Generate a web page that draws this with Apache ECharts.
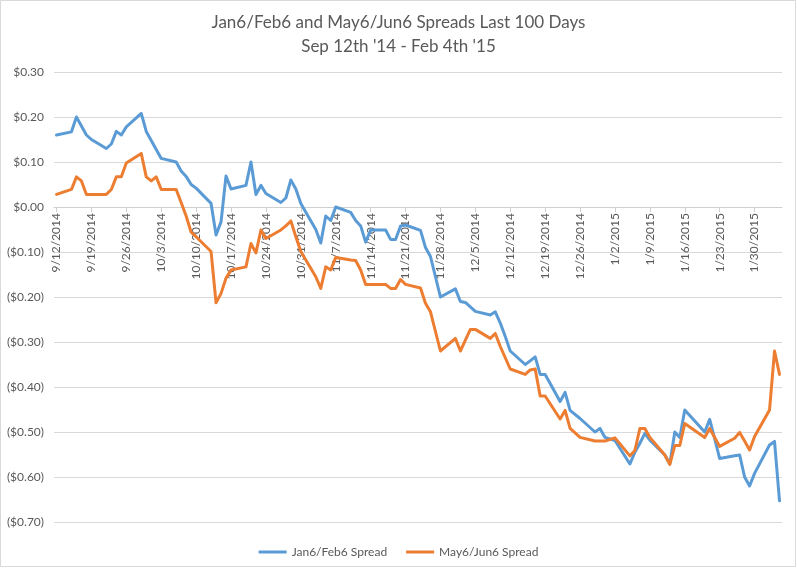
<!DOCTYPE html>
<html>
<head>
<meta charset="utf-8">
<script src="https://cdn.jsdelivr.net/npm/echarts@6/dist/echarts.min.js"></script>
<style>
html, body { margin: 0; padding: 0; background: #fff; }
#main { width: 797px; height: 568px; }
</style>
</head>
<body>
<div id="main"></div>
<script>
// trading days shown in the chart
const dates = [
    '9/12/2014', '9/15/2014', '9/16/2014', '9/17/2014', '9/18/2014', '9/19/2014',
    '9/22/2014', '9/23/2014', '9/24/2014', '9/25/2014', '9/26/2014', '9/29/2014', '9/30/2014',
    '10/1/2014', '10/2/2014', '10/3/2014', '10/6/2014', '10/7/2014', '10/8/2014', '10/9/2014', '10/10/2014',
    '10/13/2014', '10/14/2014', '10/15/2014', '10/16/2014', '10/17/2014', '10/20/2014', '10/21/2014',
    '10/22/2014', '10/23/2014', '10/24/2014', '10/27/2014', '10/28/2014', '10/29/2014', '10/30/2014', '10/31/2014',
    '11/3/2014', '11/4/2014', '11/5/2014', '11/6/2014', '11/7/2014', '11/10/2014', '11/11/2014',
    '11/12/2014', '11/13/2014', '11/14/2014', '11/17/2014', '11/18/2014', '11/19/2014', '11/20/2014',
    '11/21/2014', '11/24/2014', '11/25/2014', '11/26/2014', '11/28/2014',
    '12/1/2014', '12/2/2014', '12/3/2014', '12/4/2014', '12/5/2014', '12/8/2014', '12/9/2014',
    '12/10/2014', '12/11/2014', '12/12/2014', '12/15/2014', '12/16/2014', '12/17/2014', '12/18/2014',
    '12/19/2014', '12/22/2014', '12/23/2014', '12/24/2014', '12/26/2014', '12/29/2014', '12/30/2014', '12/31/2014',
    '1/2/2015', '1/5/2015', '1/6/2015', '1/7/2015', '1/8/2015', '1/9/2015', '1/12/2015', '1/13/2015',
    '1/14/2015', '1/15/2015', '1/16/2015', '1/20/2015', '1/21/2015', '1/22/2015', '1/23/2015',
    '1/26/2015', '1/27/2015', '1/28/2015', '1/29/2015', '1/30/2015',
    '2/2/2015', '2/3/2015', '2/4/2015'
];

const jan6Feb6 = [
    0.16, 0.167, 0.20, 0.18, 0.16, 0.15, 0.13, 0.14, 0.168, 0.16, 0.178, 0.208, 0.168,
    0.148, 0.128, 0.108, 0.10, 0.08, 0.068, 0.05, 0.042, 0.008, -0.062, -0.033, 0.069, 0.04,
    0.048, 0.10, 0.028, 0.048, 0.03, 0.01, 0.02, 0.06, 0.04, 0.008,
    -0.05, -0.08, -0.02, -0.03, 0.0, -0.012, -0.03, -0.042, -0.078, -0.051, -0.051, -0.072, -0.072,
    -0.042, -0.04, -0.052, -0.09, -0.11, -0.20,
    -0.182, -0.21, -0.212, -0.222, -0.232, -0.24, -0.233, -0.258, -0.288, -0.32, -0.35, -0.342,
    -0.333, -0.372, -0.372, -0.432, -0.412, -0.452, -0.47, -0.50, -0.492, -0.512,
    -0.519, -0.571, -0.545, -0.525, -0.503, -0.518, -0.551, -0.571, -0.50, -0.512, -0.451,
    -0.50, -0.472, -0.515, -0.559, -0.553, -0.551, -0.60, -0.62, -0.592,
    -0.529, -0.521, -0.653
];

const may6Jun6 = [
    0.028, 0.039, 0.067, 0.058, 0.028, 0.028, 0.028, 0.039, 0.067, 0.067, 0.098, 0.119, 0.067,
    0.058, 0.067, 0.039, 0.039, 0.01, -0.02, -0.056, -0.066, -0.099, -0.213, -0.192, -0.158, -0.14,
    -0.133, -0.081, -0.102, -0.051, -0.07, -0.051, -0.042, -0.031, -0.066, -0.099,
    -0.155, -0.181, -0.133, -0.14, -0.112, -0.118, -0.119, -0.14, -0.172, -0.172, -0.172, -0.181, -0.181,
    -0.161, -0.172, -0.18, -0.214, -0.233, -0.32,
    -0.292, -0.32, -0.296, -0.272, -0.272, -0.292, -0.281, -0.31, -0.335, -0.36, -0.372, -0.362,
    -0.36, -0.42, -0.42, -0.471, -0.452, -0.492, -0.512, -0.52, -0.52, -0.52,
    -0.513, -0.553, -0.541, -0.492, -0.492, -0.512, -0.551, -0.572, -0.53, -0.53, -0.481,
    -0.512, -0.492, -0.512, -0.532, -0.514, -0.501, -0.52, -0.54, -0.51,
    -0.451, -0.32, -0.372
];

const tickLabels = [
    '9/12/2014', '9/19/2014', '9/26/2014', '10/3/2014', '10/10/2014', '10/17/2014', '10/24/2014',
    '10/31/2014', '11/7/2014', '11/14/2014', '11/21/2014', '11/28/2014', '12/5/2014', '12/12/2014',
    '12/19/2014', '12/26/2014', '1/2/2015', '1/9/2015', '1/16/2015', '1/23/2015', '1/30/2015'
];

const seriesNames = ['Jan6/Feb6 Spread', 'May6/Jun6 Spread'];

function dayNum(s) {
    const p = s.split('/');
    return Date.UTC(+p[2], +p[0] - 1, +p[1]) / 86400000;
}
const day0 = dayNum(dates[0]);
const xs = dates.map(d => dayNum(d) - day0);
const tickDays = tickLabels.map(d => dayNum(d) - day0);
const labelOf = {};
tickLabels.forEach((t, i) => { labelOf[tickDays[i]] = t; });

function money(v) {
    const s = '$' + Math.abs(v).toFixed(2);
    return v < -0.0001 ? '(' + s + ')' : s;
}

const font = 'Lato, "Open Sans", sans-serif';
const grey = '#595959';

// plot box and value range
const gridTop = 72, gridBottom = 46, chartH = 568;
const yMin = -0.7, yMax = 0.3;
const plotH = chartH - gridTop - gridBottom;
// lift the date axis up to the $0.00 line
const xAxisOffset = -plotH * (0 - yMin) / (yMax - yMin);

let myChart = echarts.init(document.getElementById('main'));

const option = {
    backgroundColor: '#fff',
    animation: false,
    color: ['#5B9BD5', '#ED7D31'],
    textStyle: { fontFamily: font },
    title: {
        text: 'Jan6/Feb6 and May6/Jun6 Spreads Last 100 Days\nSep 12th \'14 - Feb 4th \'15',
        left: 'center',
        top: 6,
        textStyle: {
            color: grey,
            fontSize: 17,
            fontWeight: 'normal',
            lineHeight: 24,
            fontFamily: font
        }
    },
    legend: {
        data: seriesNames,
        icon: 'rect',
        left: 'center',
        top: 541,
        itemWidth: 28,
        itemHeight: 3,
        itemGap: 19,
        textStyle: { color: grey, fontSize: 12, fontFamily: font }
    },
    grid: {
        left: 54,
        right: 15,
        top: gridTop,
        bottom: gridBottom
    },
    xAxis: {
        type: 'value',
        min: -0.5,
        max: xs[xs.length - 1] + 0.5,
        position: 'bottom',
        offset: xAxisOffset,
        axisLine: {
            onZero: false,
            lineStyle: { color: '#cfcfcf', width: 1 }
        },
        axisTick: {
            customValues: tickDays,
            length: 5,
            lineStyle: { color: '#cfcfcf' }
        },
        axisLabel: {
            customValues: tickDays,
            rotate: 90,
            margin: 6,
            color: grey,
            fontSize: 12,
            fontFamily: font,
            formatter: v => labelOf[Math.round(v)] || ''
        },
        splitLine: { show: false }
    },
    yAxis: {
        type: 'value',
        min: yMin,
        max: yMax,
        interval: 0.1,
        axisLine: { show: false, onZero: false },
        axisTick: { show: false },
        axisLabel: {
            margin: 10,
            color: grey,
            fontSize: 12,
            fontFamily: font,
            formatter: money
        },
        splitLine: { lineStyle: { color: '#d9d9d9', width: 1 } }
    },
    series: [
        {
            name: seriesNames[0],
            type: 'line',
            symbol: 'none',
            lineStyle: { width: 3, join: 'round', cap: 'round' },
            data: xs.map((x, i) => [x, jan6Feb6[i]])
        },
        {
            name: seriesNames[1],
            type: 'line',
            symbol: 'none',
            lineStyle: { width: 3, join: 'round', cap: 'round' },
            data: xs.map((x, i) => [x, may6Jun6[i]])
        }
    ],
    graphic: [
        {
            type: 'rect',
            shape: { x: 0.5, y: 0.5, width: 795, height: 566 },
            style: { fill: 'none', stroke: '#d9d9d9', lineWidth: 1 },
            silent: true
        }
    ]
};

myChart.setOption(option);
</script>
</body>
</html>
